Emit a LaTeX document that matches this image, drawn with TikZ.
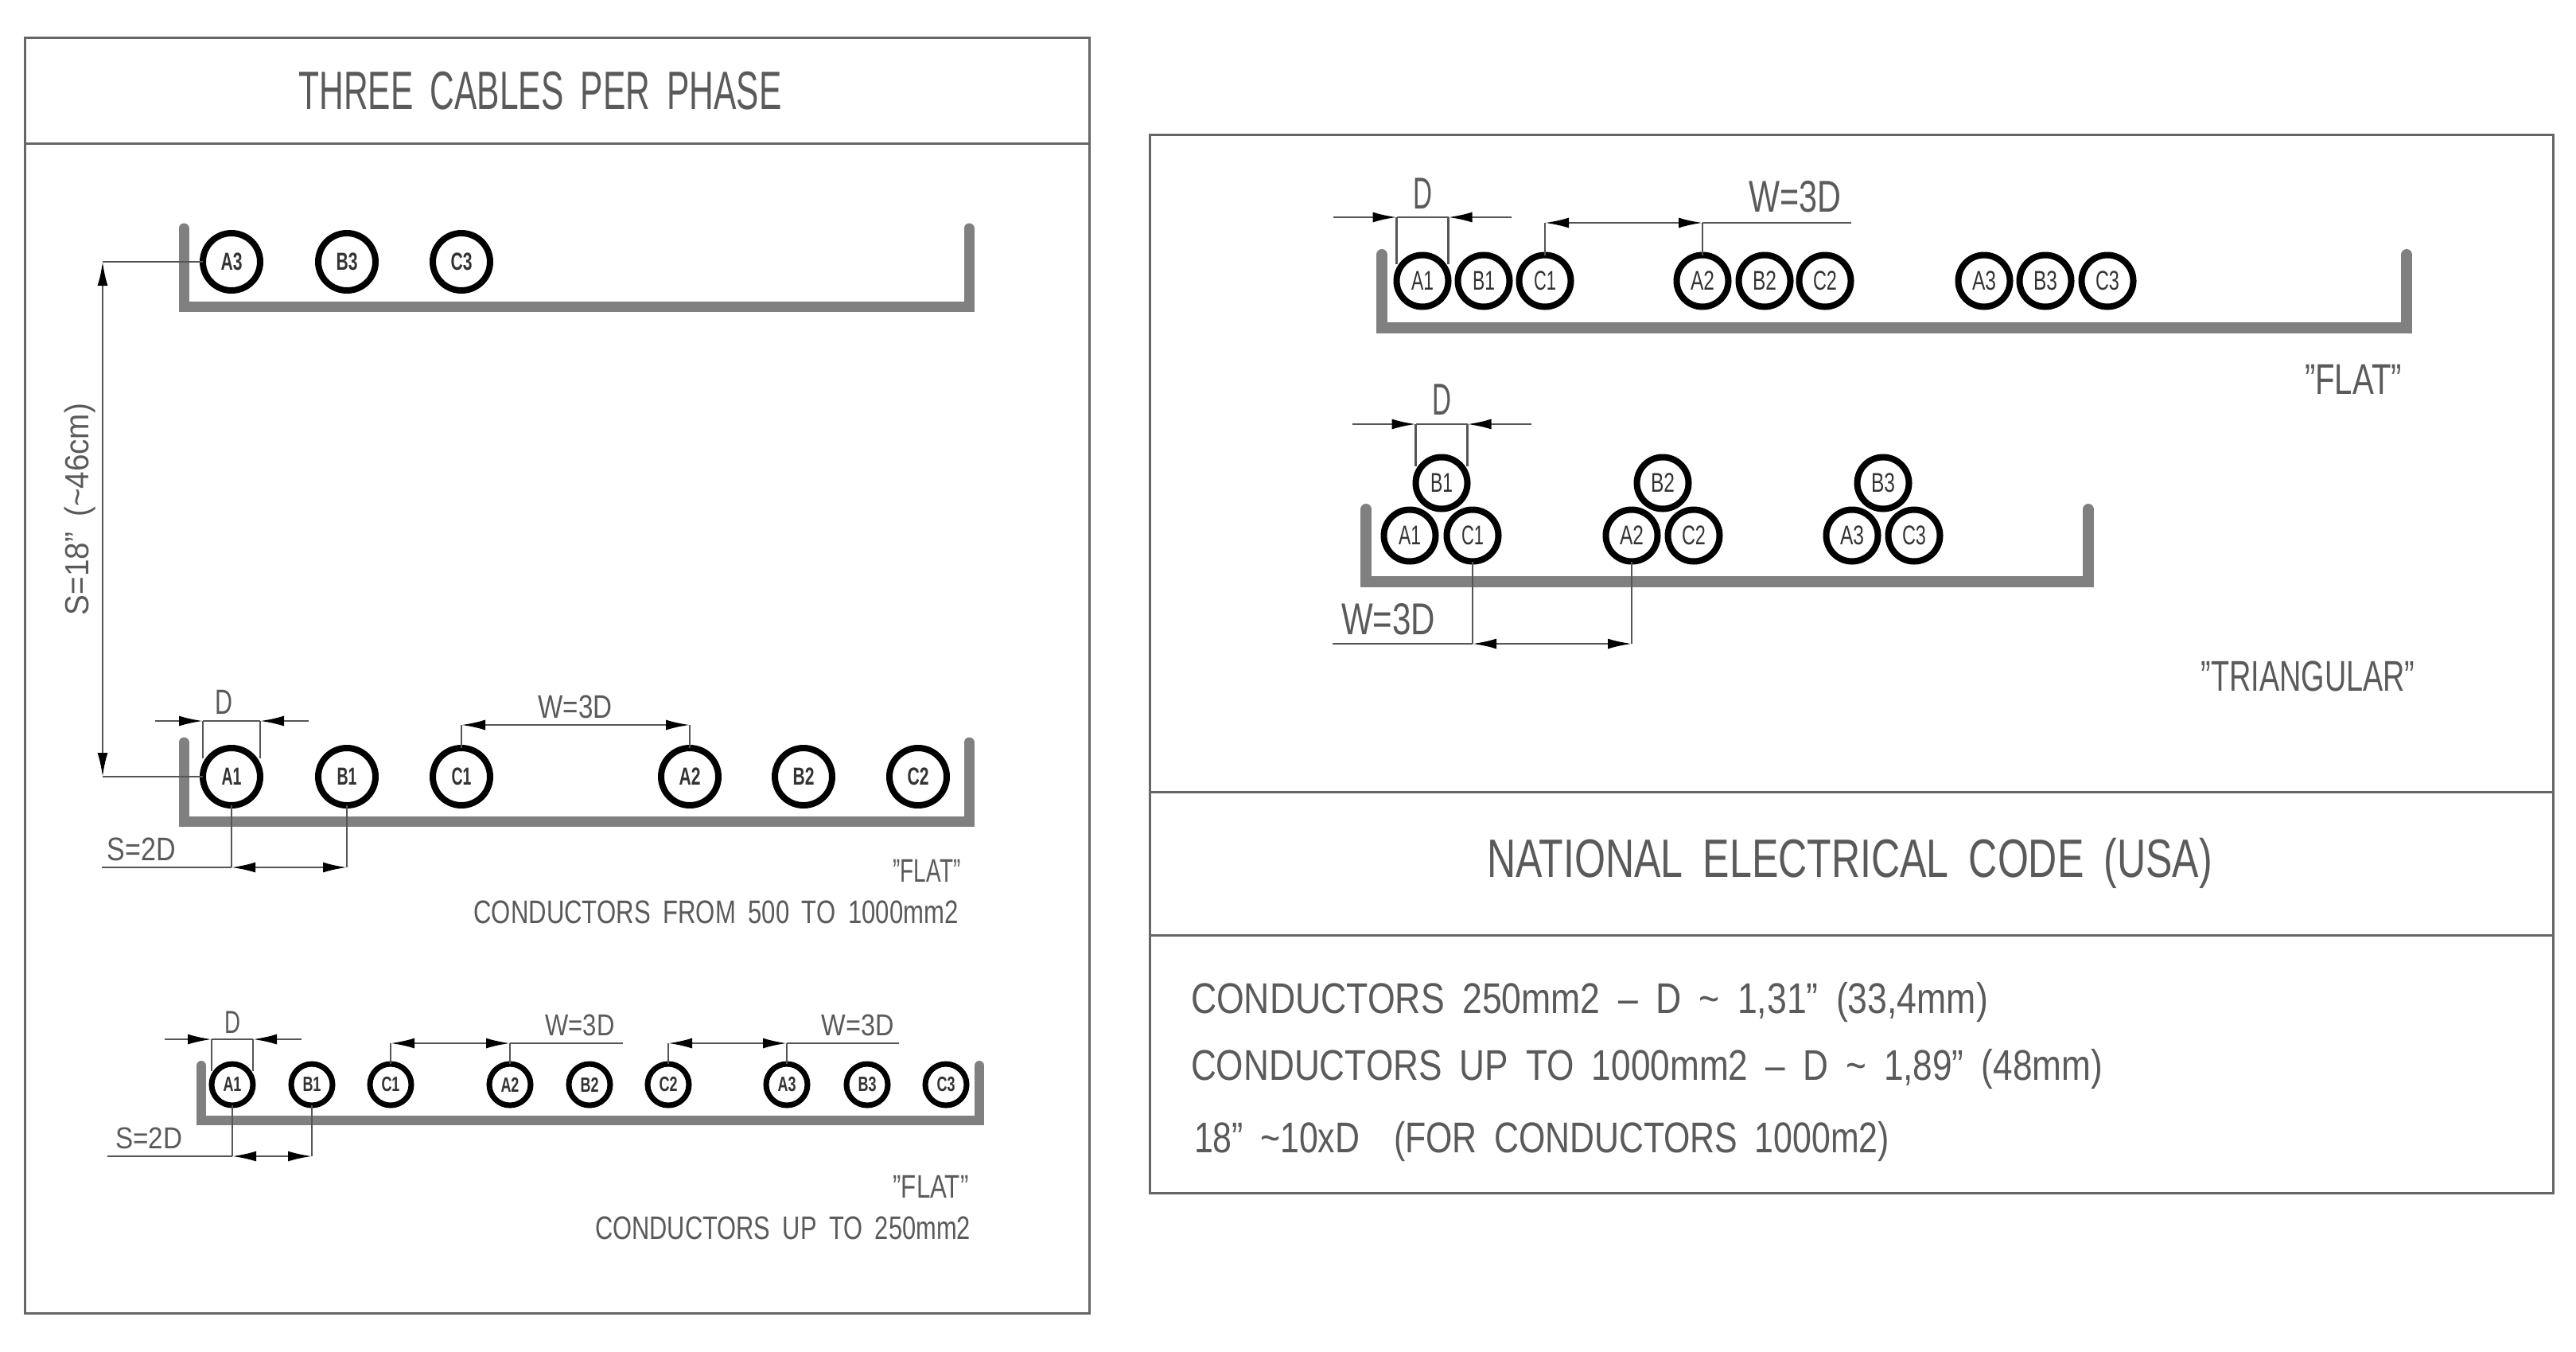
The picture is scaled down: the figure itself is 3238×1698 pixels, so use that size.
\documentclass[tikz,border=0pt]{standalone}
\usepackage{fontspec}
\usepackage{graphicx}
\usetikzlibrary{arrows.meta,calc}
\setmainfont{Liberation Sans}
\definecolor{ink}{HTML}{5A5A5A}
\definecolor{frame}{HTML}{666666}
\definecolor{trayc}{HTML}{808080}
\definecolor{dimc}{HTML}{555555}
% text of given width (px) and font size
\newcommand\Tx[3]{\resizebox{#1pt}{\height}{\fontsize{#2pt}{#2pt}\selectfont\spaceskip=.5em\relax #3}}
\tikzset{
  x=1pt,y=-1pt,
  panel/.style={draw=frame,line width=3pt},
  tray/.style={draw=trayc,line width=13pt,line cap=round,line join=miter},
  cabA/.style={circle,draw=black,line width=8pt,fill=white,minimum size=72pt,inner sep=0pt,outer sep=0pt,text=black!80},
  cabB/.style={circle,draw=black,line width=7pt,fill=white,minimum size=52pt,inner sep=0pt,outer sep=0pt,text=black!80},
  cabC/.style={circle,draw=black,line width=8pt,fill=white,minimum size=65pt,inner sep=0pt,outer sep=0pt,text=black!80},
  txt/.style={inner sep=0pt,outer sep=0pt,text=ink},
  dimline/.style={draw=dimc,line width=2.5pt},
  tip/.style={draw=dimc,line width=2.5pt,-{Latex[length=30pt,width=13pt,black]}},
}
% D dimension: node, y, free left, free right
\newcommand\Ddim[4]{%
  \coordinate (#1dl) at (#1.west |- 0,#2);
  \coordinate (#1dr) at (#1.east |- 0,#2);
  \coordinate (#1fl) at (#3,#2);
  \coordinate (#1fr) at (#4,#2);
  \draw[dimline] (#1dl) -- (#1dl |- #1.140);
  \draw[dimline] (#1dr) -- (#1dr |- #1.40);
  \draw[dimline] (#1dl) -- (#1dr);
  \draw[tip] (#1fl) -- (#1dl);
  \draw[tip] (#1fr) -- (#1dr);
}
% W dimension above: left node, right node, y, free right
\newcommand\Wup[4]{%
  \coordinate (#1wl) at (#1.north |- 0,#3);
  \coordinate (#2wr) at (#2.north |- 0,#3);
  \coordinate (#2wf) at (#4,#3);
  \draw[dimline] (#1.north) -- (#1wl);
  \draw[dimline] (#2.north) -- (#2wr);
  \draw[dimline] (#2wr) -- (#2wf);
  \draw[tip] ($(#1wl)!.5!(#2wr)$) -- (#1wl);
  \draw[tip] ($(#1wl)!.5!(#2wr)$) -- (#2wr);
}
% dimension below: left node, right node, y, free left
\newcommand\Sdn[4]{%
  \coordinate (#1sl) at (#1.south |- 0,#3);
  \coordinate (#2sr) at (#2.south |- 0,#3);
  \coordinate (#1sf) at (#4,#3);
  \draw[dimline] (#1.south) -- (#1sl);
  \draw[dimline] (#2.south) -- (#2sr);
  \draw[dimline] (#1sf) -- (#1sl);
  \draw[tip] ($(#1sl)!.5!(#2sr)$) -- (#1sl);
  \draw[tip] ($(#1sl)!.5!(#2sr)$) -- (#2sr);
}
\begin{document}
\begin{tikzpicture}
\useasboundingbox (0,0) rectangle (3238,1698);
% panels
\draw[panel] (31,47) rectangle (1369,1650);
\draw[panel] (31,180) -- (1369,180);
\draw[panel] (1445,169) rectangle (3209,1499);
\draw[panel] (1445,995) -- (3209,995);
\draw[panel] (1445,1175) -- (3209,1175);
% trays
\draw[tray] (231,287) -- (231,385) -- (1218,385) -- (1218,287);
\draw[tray] (231,933) -- (231,1032) -- (1218,1032) -- (1218,933);
\draw[tray,line width=12pt] (253,1339) -- (253,1408) -- (1231,1408) -- (1231,1339);
\draw[tray,line width=14pt] (1737,320) -- (1737,412) -- (3025,412) -- (3025,320);
\draw[tray,line width=14pt] (1717,640) -- (1717,731) -- (2625,731) -- (2625,640);
% top left row
\node[cabA] (ta3) at (291,329) {\Tx{27}{31}{\textbf{A3}}};
\node[cabA] (tb3) at (436,329) {\Tx{27}{31}{\textbf{B3}}};
\node[cabA] (tc3) at (580,329) {\Tx{27}{31}{\textbf{C3}}};
% second left row
\node[cabA] (ma1) at (291,976) {\Tx{25}{31}{\textbf{A1}}};
\node[cabA] (mb1) at (436,976) {\Tx{25}{31}{\textbf{B1}}};
\node[cabA] (mc1) at (580,976) {\Tx{25}{31}{\textbf{C1}}};
\node[cabA] (ma2) at (867,976) {\Tx{27}{31}{\textbf{A2}}};
\node[cabA] (mb2) at (1010,976) {\Tx{27}{31}{\textbf{B2}}};
\node[cabA] (mc2) at (1154,976) {\Tx{27}{31}{\textbf{C2}}};
% third left row
\node[cabB] (ba1) at (292,1363) {\Tx{23}{26}{\textbf{A1}}};
\node[cabB] (bb1) at (392,1363) {\Tx{23}{26}{\textbf{B1}}};
\node[cabB] (bc1) at (491,1363) {\Tx{23}{26}{\textbf{C1}}};
\node[cabB] (ba2) at (641,1363) {\Tx{23}{26}{\textbf{A2}}};
\node[cabB] (bb2) at (741,1363) {\Tx{23}{26}{\textbf{B2}}};
\node[cabB] (bc2) at (840,1363) {\Tx{23}{26}{\textbf{C2}}};
\node[cabB] (ba3) at (989,1363) {\Tx{23}{26}{\textbf{A3}}};
\node[cabB] (bb3) at (1090,1363) {\Tx{23}{26}{\textbf{B3}}};
\node[cabB] (bc3) at (1189,1363) {\Tx{23}{26}{\textbf{C3}}};
% right flat row
\node[cabC] (fa1) at (1788,353) {\Tx{28}{34}{A1}};
\node[cabC] (fb1) at (1865,353) {\Tx{28}{34}{B1}};
\node[cabC] (fc1) at (1942,353) {\Tx{28}{34}{C1}};
\node[cabC] (fa2) at (2140,353) {\Tx{30}{34}{A2}};
\node[cabC] (fb2) at (2218,353) {\Tx{30}{34}{B2}};
\node[cabC] (fc2) at (2294,353) {\Tx{30}{34}{C2}};
\node[cabC] (fa3) at (2494,353) {\Tx{30}{34}{A3}};
\node[cabC] (fb3) at (2571,353) {\Tx{30}{34}{B3}};
\node[cabC] (fc3) at (2649,353) {\Tx{30}{34}{C3}};
% right triangular
\node[cabC] (ra1) at (1772,673) {\Tx{28}{34}{A1}};
\node[cabC] (rc1) at (1851,673) {\Tx{28}{34}{C1}};
\node[cabC] (rb1) at (1812,607) {\Tx{28}{34}{B1}};
\node[cabC] (ra2) at (2051,673) {\Tx{30}{34}{A2}};
\node[cabC] (rc2) at (2129,673) {\Tx{30}{34}{C2}};
\node[cabC] (rb2) at (2090,607) {\Tx{30}{34}{B2}};
\node[cabC] (ra3) at (2328,673) {\Tx{30}{34}{A3}};
\node[cabC] (rc3) at (2406,673) {\Tx{30}{34}{C3}};
\node[cabC] (rb3) at (2367,607) {\Tx{30}{34}{B3}};
% S vertical dimension
\coordinate (sa) at (129,329);
\coordinate (sb) at (129,976);
\draw[dimline] (sa) -- (ta3.west);
\draw[dimline] (sb) -- (ma1.west);
\draw[tip] (129,650) -- (sa);
\draw[tip] (129,650) -- (sb);
% dimensions
\Ddim{ma1}{906}{195}{388}
\Wup{mc1}{ma2}{911}{867}
\Sdn{ma1}{mb1}{1090}{128}
\Ddim{ba1}{1306}{207}{379}
\Wup{bc1}{ba2}{1311}{783}
\Wup{bc2}{ba3}{1311}{1130}
\Sdn{ba1}{bb1}{1453}{135}
\Ddim{fa1}{273}{1676}{1900}
\Wup{fc1}{fa2}{280}{2327}
\Ddim{rb1}{533}{1700}{1925}
\Sdn{rc1}{ra2}{809}{1675}
% texts
\node[txt] (t1) at (679,114) {\Tx{607}{68}{THREE CABLES PER PHASE}};
\node[txt,rotate=90] (t2) at (101,640) {\Tx{266}{42}{S=18" (\textasciitilde 46cm)}};
\node[txt] (t3) at (281,882) {\Tx{22}{44}{D}};
\node[txt] (t4) at (723,888) {\Tx{93}{41}{W=3D}};
\node[txt] (t5) at (178,1067) {\Tx{86}{41}{S=2D}};
\node[txt] (t6) at (1165,1094) {\Tx{85}{41}{"FLAT"}};
\node[txt] (t7) at (900,1146) {\Tx{609}{41}{CONDUCTORS FROM 500 TO 1000mm2}};
\node[txt] (t8) at (292,1285) {\Tx{20}{40}{D}};
\node[txt] (t9) at (729,1288) {\Tx{87}{38}{W=3D}};
\node[txt] (t10) at (1078,1288) {\Tx{91}{38}{W=3D}};
\node[txt] (t11) at (187,1430) {\Tx{84}{38}{S=2D}};
\node[txt] (t12) at (1170,1491) {\Tx{95}{41}{"FLAT"}};
\node[txt] (t13) at (984,1543) {\Tx{472}{41}{CONDUCTORS UP TO 250mm2}};
\node[txt] (t14) at (1788,243) {\Tx{24}{56}{D}};
\node[txt] (t15) at (2256,247) {\Tx{116}{56}{W=3D}};
\node[txt] (t16) at (2958,477) {\Tx{122}{54}{"FLAT"}};
\node[txt] (t17) at (1812,502) {\Tx{24}{56}{D}};
\node[txt] (t18) at (1745,778) {\Tx{118}{56}{W=3D}};
\node[txt] (t19) at (2901,850) {\Tx{269}{54}{"TRIANGULAR"}};
\node[txt] (t20) at (2325,1085) {\Tx{912}{68}{NATIONAL ELECTRICAL CODE (USA)}};
\node[txt,anchor=west] (t21) at (1497,1260) {\Tx{1002}{54}{CONDUCTORS 250mm2 -- D \textasciitilde{} 1,31" (33,4mm)}};
\node[txt,anchor=west] (t22) at (1497,1344) {\Tx{1146}{54}{CONDUCTORS UP TO 1000mm2 -- D \textasciitilde{} 1,89" (48mm)}};
\node[txt,anchor=west] (t23) at (1501,1435) {\Tx{874}{54}{18" \textasciitilde 10xD\hspace{.5em} (FOR CONDUCTORS 1000m2)}};
\end{tikzpicture}
\end{document}
